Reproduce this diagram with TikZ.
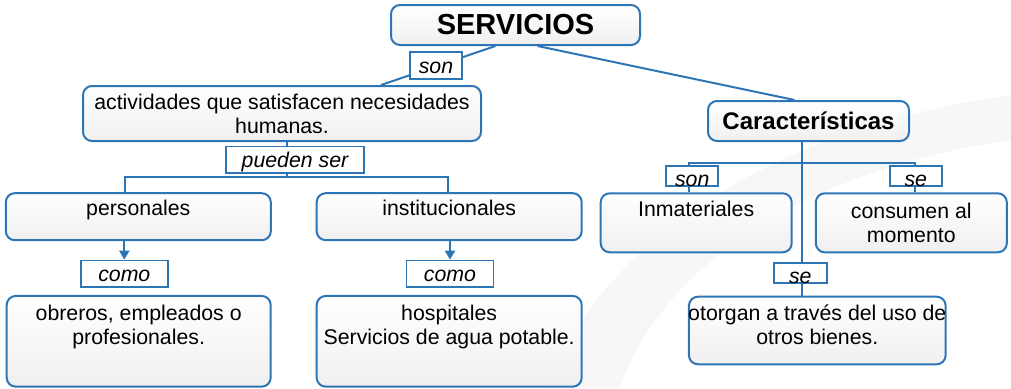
\documentclass[tikz,border=0pt]{standalone}
\usepackage{fontspec}
\setmainfont{Liberation Sans}
\usetikzlibrary{arrows.meta,positioning}
\definecolor{mapblue}{RGB}{46,117,182}
\newcommand{\fs}{\fontsize{21.3}{24}\selectfont}

\begin{document}
\begin{tikzpicture}[x=1pt,y=-1pt,
  box/.style={draw=mapblue,line width=2pt,rounded corners=9pt,top color=white,bottom color=black!6,font=\fs,inner sep=0pt,align=center},
  txt/.style={font=\fs,inner sep=0pt,align=center},
  lab/.style={draw=mapblue,line width=1.8pt,fill=white,font=\fs\itshape,inner sep=0pt,minimum height=26.5pt,text height=15pt,text depth=0pt},
  labtop/.style={lab,minimum height=20pt,text height=20pt},
  link/.style={draw=mapblue,line width=2pt},
  arr/.style={link,-{Triangle[width=10pt,length=9pt]}}]
\useasboundingbox (0,0) rectangle (1011,388);

% faint swirl in the background
\fill[black!3] (545,388) .. controls (600,250) and (760,130) .. (1011,95)
   -- (1011,140) .. controls (800,170) and (660,270) .. (620,388) -- cycle;

% boxes
\node[box,minimum width=249pt,minimum height=40pt,font=\fontsize{29}{32}\selectfont\bfseries] (serv) at (515.5,25) {SERVICIOS};
\node[box,minimum width=398pt,minimum height=55pt] (act) at (282,113.5) {actividades que satisfacen necesidades\\humanas.};
\node[box,minimum width=201pt,minimum height=40pt,font=\fontsize{24}{28}\selectfont\bfseries] (car) at (808.5,121) {Características};

\node[box,minimum width=265pt,minimum height=47pt,text height=15pt,text depth=17pt] (pers) at (138.3,216.7) {personales};
\node[box,minimum width=265pt,minimum height=47pt,text height=15pt,text depth=17pt] (inst) at (449.2,216.7) {institucionales};
\node[box,minimum width=191pt,minimum height=59pt,text height=15pt,text depth=27pt] (inm) at (696.2,222.8) {Inmateriales};
\node[box,minimum width=191pt,minimum height=59pt] (cons) at (911.3,222.8) {consumen al\\momento};

\node[box,minimum width=264pt,minimum height=90.7pt] (obr) at (138.7,341.3) {};
\node[txt,below=10pt of obr.north] (obrtxt) {obreros, empleados o\\profesionales.};
\node[box,minimum width=265pt,minimum height=90.7pt] (hosp) at (449.2,341.3) {};
\node[txt,below=10pt of hosp.north] (hosptxt) {hospitales\\Servicios de agua potable.};
\node[box,minimum width=256.7pt,minimum height=67.6pt] (otor) at (817.3,330.5) {};
\node[txt,below=8.5pt of otor.north] (otortxt) {otorgan a través del uso de\\otros bienes.};

% connectors
\draw[link] ([xshift=-20pt]serv.south) -- ([xshift=99pt]act.north);
\draw[link] ([xshift=22pt]serv.south) -- ([xshift=-14pt]car.north);

\coordinate (barA) at (125,177.3);
\coordinate (barB) at (448.3,177.3);
\draw[link] ([xshift=5pt]act.south) -- ([xshift=5pt]act.south |- barA);
\draw[link] (pers.north -| barA) -- (barA) -- (barB) -- (inst.north -| barB);

\coordinate (trunk) at ([xshift=-7pt]car.south);
\coordinate (barL) at (689.3,162.7);
\coordinate (barR) at (915,162.7);
\draw[link] (trunk) -- (trunk |- otor.north);
\draw[link] (inm.north -| barL) -- (barL) -- (barR) -- (cons.north -| barR);

% labels on the lines
\node[lab,minimum width=52pt] (son) at (436,65.5) {son};
\node[lab,minimum width=138pt] (pueden) at (295,159.7) {pueden ser};
\node[lab,minimum width=87pt] (como1) at (124.3,273.8) {como};
\node[lab,minimum width=87pt] (como2) at (450,273.8) {como};
\node[labtop,minimum width=52pt] (son2) at (692.2,176) {son};
\node[labtop,minimum width=52pt] (se1) at (915.8,176) {se};
\node[labtop,minimum width=52.7pt] (se2) at (800.3,273.3) {se};

\draw[arr] (pers.south -| como1) -- (como1.north);
\draw[arr] (inst.south -| como2) -- (como2.north);
\end{tikzpicture}
\end{document}
